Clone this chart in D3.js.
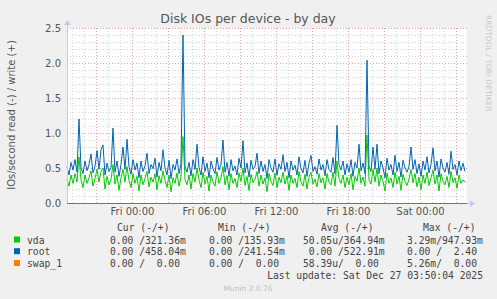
<!DOCTYPE html>
<html><head><meta charset="utf-8">
<script src="https://cdn.jsdelivr.net/npm/d3@7"></script>
<style>
html,body{margin:0;padding:0;background:#f0f0f0;}
svg{display:block;}
</style></head>
<body>
<script>
// ---- data (IOs/second, write, one sample every 10 min) ----
const startTime = "2025-12-25T18:35:00Z";
const endTime = "2025-12-27T03:55:00Z";
const sampleMinutes = 10;
const rootWrite = [
0.52,0.40,0.58,0.47,0.62,0.44,1.20,0.50,0.42,0.60,
0.46,0.55,0.70,0.43,0.52,0.75,0.48,0.76,0.83,0.40,
0.57,0.45,0.50,1.07,0.44,0.60,0.38,0.55,0.80,0.48,
0.91,0.52,0.41,0.62,0.47,0.57,0.36,0.60,0.45,0.53,
0.71,0.42,0.55,0.49,0.64,0.37,0.58,0.46,0.76,0.50,
0.40,0.61,0.35,0.55,0.47,0.63,0.42,0.56,2.40,0.52,
0.44,0.58,0.39,0.62,0.48,0.84,0.51,0.40,0.66,0.45,
0.57,0.36,0.60,0.49,0.42,0.65,0.47,0.55,0.90,0.44,
0.58,0.38,0.62,0.46,0.53,0.40,0.64,0.50,0.89,0.43,
0.57,0.37,0.61,0.48,0.52,0.71,0.42,0.60,0.45,0.55,
0.35,0.62,0.50,0.44,0.63,0.40,0.56,0.48,0.69,0.45,
0.58,0.36,0.60,0.47,0.54,0.40,0.66,0.49,0.43,0.61,
0.38,0.57,0.68,0.45,0.52,0.41,0.63,0.47,0.55,0.39,
0.62,0.48,0.44,0.65,0.42,1.11,0.55,0.47,0.60,0.40,
0.56,0.44,0.62,0.38,0.58,0.50,0.84,0.46,0.57,0.42,
2.04,0.52,0.45,0.80,0.48,0.84,0.42,0.60,0.50,0.36,
0.64,0.47,0.55,0.40,0.68,0.45,0.58,0.37,0.61,0.50,
0.44,0.52,0.80,0.48,0.62,0.42,0.56,0.38,0.60,0.47,
0.66,0.43,0.55,0.79,0.46,0.60,0.37,0.63,0.50,0.44,
0.58,0.41,0.74,0.48,0.55,0.40,0.60,0.46,0.57,0.45];
const vdaWrite = [
0.34,0.24,0.40,0.28,0.42,0.30,0.66,0.33,0.22,0.40,
0.28,0.36,0.46,0.24,0.35,0.48,0.30,0.45,0.50,0.20,
0.38,0.26,0.33,0.55,0.27,0.40,0.18,0.36,0.48,0.30,
0.52,0.32,0.22,0.42,0.28,0.38,0.17,0.40,0.26,0.35,
0.45,0.23,0.37,0.30,0.42,0.19,0.39,0.28,0.46,0.32,
0.22,0.40,0.16,0.36,0.28,0.43,0.24,0.37,0.95,0.34,
0.26,0.40,0.20,0.42,0.30,0.50,0.33,0.22,0.44,0.27,
0.38,0.17,0.40,0.30,0.24,0.45,0.28,0.36,0.52,0.26,
0.39,0.19,0.42,0.28,0.35,0.22,0.43,0.31,0.50,0.25,
0.38,0.18,0.41,0.29,0.34,0.45,0.24,0.40,0.27,0.36,
0.16,0.42,0.31,0.25,0.43,0.22,0.37,0.29,0.44,0.27,
0.39,0.18,0.40,0.28,0.35,0.22,0.45,0.30,0.24,0.41,
0.20,0.37,0.44,0.27,0.34,0.23,0.42,0.29,0.36,0.20,
0.42,0.30,0.26,0.44,0.24,0.60,0.35,0.28,0.40,0.22,
0.37,0.26,0.42,0.19,0.38,0.31,0.50,0.28,0.37,0.24,
0.97,0.33,0.27,0.48,0.30,0.50,0.24,0.40,0.31,0.17,
0.43,0.28,0.36,0.22,0.44,0.27,0.38,0.18,0.41,0.31,
0.25,0.34,0.48,0.29,0.42,0.23,0.37,0.19,0.40,0.28,
0.44,0.25,0.36,0.47,0.27,0.40,0.17,0.42,0.31,0.26,
0.38,0.22,0.45,0.29,0.36,0.21,0.40,0.28,0.33,0.30];
const yTicks = [0,0.5,1.0,1.5,2.0,2.5];
const xLabelTimes = ["2025-12-26T00:00:00Z","2025-12-26T06:00:00Z","2025-12-26T12:00:00Z","2025-12-26T18:00:00Z","2025-12-27T00:00:00Z"];
const legendNames = ["vda","root","swap_1"];
const legendColors = ["#00cc00","#0066b3","#ff8000"];
const legendCur = ["0.00 /321.36m","0.00 /458.04m","0.00 /  0.00"];
const legendMin = ["0.00 /135.93m","0.00 /241.54m","0.00 /  0.00"];
const legendAvg = ["50.05u/364.94m"," 0.00 /522.91m","58.39u/  0.00"];
const legendMax = ["3.29m/947.93m","0.00 /  2.40","5.26m/  0.00"];
const legendHeaders = ["Cur (-/+)","Min (-/+)","Avg (-/+)","Max (-/+)"];

// ---- layout ----
const W = 497, H = 299;
const pL = 67, pR = 467, pT = 28, pB = 203;
const svg = d3.select("body").append("svg").attr("width", W).attr("height", H);
svg.append("rect").attr("width", W).attr("height", H).attr("fill", "#f0f0f0");
svg.append("rect").attr("x", pL).attr("y", pT).attr("width", pR-pL).attr("height", pB-pT).attr("fill", "#fff");

const t0 = new Date(startTime), t1 = new Date(endTime);
const x = d3.scaleUtc().domain([t0, t1]).range([pL, pR]);
const y = d3.scaleLinear().domain([0, 2.5]).range([pB, pT]);

// grid
const g = svg.append("g");
const minorX = d3.utcHour.every(1).range(t0, t1);
const majorX = d3.utcHour.every(3).range(t0, t1);
g.selectAll(".mx").data(minorX).enter().append("line")
  .attr("x1", d=>Math.round(x(d))+0.5).attr("x2", d=>Math.round(x(d))+0.5)
  .attr("y1", pT).attr("y2", pB)
  .attr("stroke", "#d8d8d8").attr("stroke-dasharray", "1,2");
const minorY = d3.range(0, 26).map(i => i/10);
g.selectAll(".my").data(minorY).enter().append("line")
  .attr("x1", pL).attr("x2", pR)
  .attr("y1", d=>Math.round(y(d))+0.5).attr("y2", d=>Math.round(y(d))+0.5)
  .attr("stroke", "#d8d8d8").attr("stroke-dasharray", "1,2");
g.selectAll(".Mx").data(majorX).enter().append("line")
  .attr("x1", d=>Math.round(x(d))+0.5).attr("x2", d=>Math.round(x(d))+0.5)
  .attr("y1", pT).attr("y2", pB)
  .attr("stroke", "#e7a3a3").attr("stroke-dasharray", "1,2");
g.selectAll(".My").data(yTicks).enter().append("line")
  .attr("x1", pL).attr("x2", pR)
  .attr("y1", d=>Math.round(y(d))+0.5).attr("y2", d=>Math.round(y(d))+0.5)
  .attr("stroke", "#e7a3a3").attr("stroke-dasharray", "1,2");

// lines
const tAt = i => new Date(t0.getTime() + i*sampleMinutes*60000);
const line = d3.line().x((d,i)=>x(tAt(i))).y(d=>y(d));
svg.append("path").datum(vdaWrite).attr("d", line).attr("fill","none").attr("stroke", legendColors[0]).attr("stroke-width", 1);
svg.append("path").datum(rootWrite).attr("d", line).attr("fill","none").attr("stroke", legendColors[1]).attr("stroke-width", 1);

// axes
svg.append("line").attr("x1", pL+0.5).attr("x2", pL+0.5).attr("y1", pB).attr("y2", pT-5).attr("stroke", "#c8c8ee");
svg.append("path").attr("d", `M${pL-3},${pT-3} L${pL+0.5},${pT-8} L${pL+4},${pT-3} Z`).attr("fill", "#c8c8ee");
svg.append("line").attr("x1", pL).attr("x2", pR+3).attr("y1", pB+0.5).attr("y2", pB+0.5).attr("stroke", "#c8c8ee");
svg.append("path").attr("d", `M${pR+3},${pB-3} L${pR+8},${pB+0.5} L${pR+3},${pB+4} Z`).attr("fill", "#c8c8ee");
svg.append("line").attr("x1", pL).attr("x2", pR).attr("y1", pB+0.5).attr("y2", pB+0.5).attr("stroke", "#6f6f8f");

// y axis labels via d3 axis
const yAxis = d3.axisLeft(y).tickValues(yTicks).tickFormat(d3.format(".1f")).tickSize(0).tickPadding(6);
const ya = svg.append("g").attr("transform", `translate(${pL},0)`).call(yAxis);
ya.select(".domain").remove();
ya.selectAll("text").attr("font-family","DejaVu Sans").attr("font-size", 10).attr("fill","#555");

const xAxis = d3.axisBottom(x).tickValues(xLabelTimes.map(s=>new Date(s))).tickFormat(d3.utcFormat("%a %H:%M")).tickSize(0).tickPadding(5);
const xa = svg.append("g").attr("transform", `translate(0,${pB})`).call(xAxis);
xa.select(".domain").remove();
xa.selectAll("text").attr("font-family","DejaVu Sans").attr("font-size", 10).attr("fill","#555");

// titles
svg.append("text").attr("x", 248).attr("y", 23).attr("text-anchor","middle")
  .attr("font-family","DejaVu Sans").attr("font-size", 12.5).attr("fill","#555").text("Disk IOs per device - by day");
svg.append("text").attr("transform", "translate(15,115) rotate(-90)").attr("text-anchor","middle")
  .attr("font-family","DejaVu Sans").attr("font-size", 10).attr("fill","#555").text("IOs/second read (-) / write (+)");
svg.append("text").attr("transform", "translate(486,15) rotate(90)").attr("text-anchor","start")
  .attr("font-family","DejaVu Sans").attr("font-size", 7.5).attr("fill","#c8c8c8").text("RRDTOOL / TOBI OETIKER");

// legend
const mono = "DejaVu Sans Mono";
const fs = 9.7, lc = "#444";
const headX = [117, 218, 321, 423];
legendHeaders.forEach((h,i)=>{
  svg.append("text").attr("x", headX[i]).attr("y", 231).attr("font-family", mono).attr("font-size", fs).attr("fill", lc).text(h);
});
const rowY = [243.5, 255.2, 267];
const colX = [110, 209, 303, 407];
const cols = [legendCur, legendMin, legendAvg, legendMax];
legendNames.forEach((n,i)=>{
  svg.append("rect").attr("x", 14).attr("y", rowY[i]-7).attr("width", 6).attr("height", 6).attr("fill", legendColors[i]);
  svg.append("text").attr("x", 27).attr("y", rowY[i]).attr("font-family", mono).attr("font-size", fs).attr("fill", lc).text(n);
  cols.forEach((c,j)=>{
    svg.append("text").attr("x", colX[j]).attr("y", rowY[i]).attr("font-family", mono).attr("font-size", fs).attr("fill", lc)
      .attr("xml:space","preserve").style("white-space","pre").text(c[i]);
  });
});
svg.append("text").attr("x", 483).attr("y", 279).attr("text-anchor","end").attr("font-family", mono).attr("font-size", fs).attr("fill", lc)
  .text("Last update: Sat Dec 27 03:50:04 2025");
svg.append("text").attr("x", 248).attr("y", 291).attr("text-anchor","middle").attr("font-family","DejaVu Sans").attr("font-size", 7.5).attr("fill","#c0c0c0")
  .text("Munin 2.0.76");
</script>
</body></html>
